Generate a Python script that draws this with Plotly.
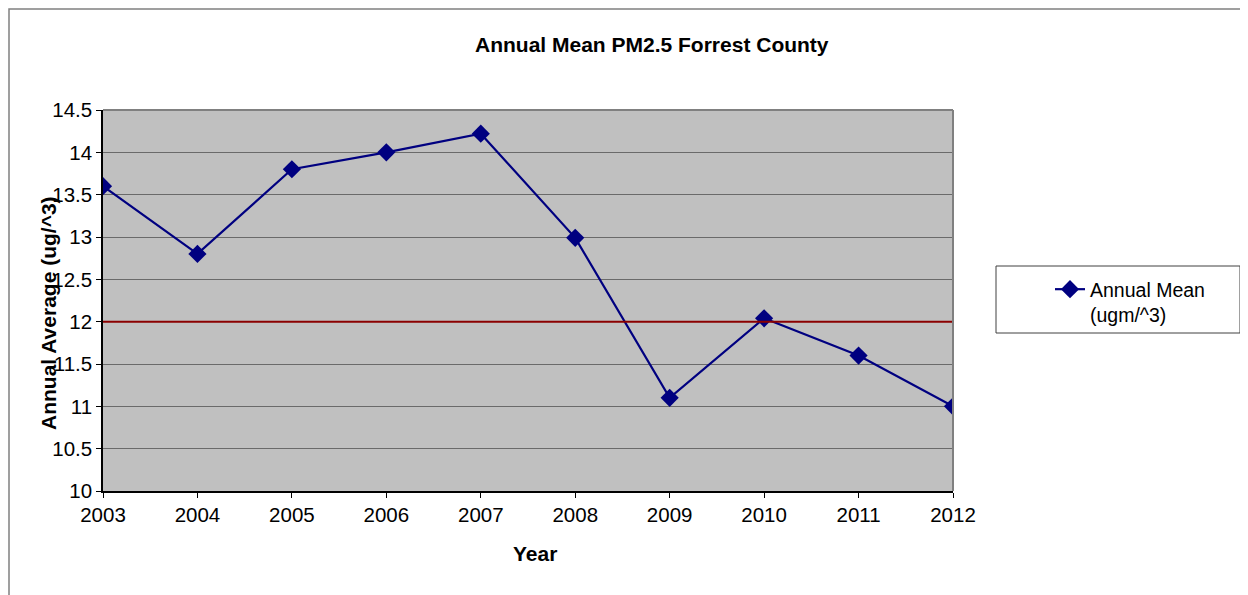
import plotly.graph_objects as go

years = [2003, 2004, 2005, 2006, 2007, 2008, 2009, 2010, 2011, 2012]
annual_mean = [13.6, 12.8, 13.8, 14.0, 14.22, 12.99, 11.1, 12.04, 11.6, 11.0]
standard = 12.0
y_ticks = [10, 10.5, 11, 11.5, 12, 12.5, 13, 13.5, 14, 14.5]

W, H = 1248, 595
OFF = 8  # browser body margin
# plot area in page pixels
L, R, T, B = 103, 953, 110, 491
Lf, Rf, Tf, Bf = L - OFF, R - OFF, T - OFF, B - OFF

def px(xp):
    return (xp - L) / (R - L)

def py(yp):
    return (B - yp) / (B - T)

fig = go.Figure()
fig.add_trace(go.Scatter(
    x=years, y=annual_mean, mode="lines+markers",
    name="Annual Mean<br>(ugm/^3)",
    line=dict(color="#000080", width=2.2),
    marker=dict(symbol="diamond", size=14, color="#000080"),
))

fig.add_shape(type="line", xref="paper", yref="y", x0=0, x1=1, y0=standard, y1=standard,
              line=dict(color="#8B0000", width=2))

# outer chart border (as close to the page corner as the figure allows)
fig.add_shape(type="rect", xref="paper", yref="paper", x0=px(9), x1=px(1270), y0=py(640), y1=py(9),
              line=dict(color="#808080", width=1.5), layer="below")
# plot area border (top/right gray)
fig.add_shape(type="line", xref="paper", yref="paper", x0=0, x1=1, y0=1, y1=1,
              line=dict(color="#808080", width=2))
fig.add_shape(type="line", xref="paper", yref="paper", x0=1, x1=1, y0=0, y1=1,
              line=dict(color="#808080", width=2))
# legend box
fig.add_shape(type="rect", xref="paper", yref="paper", x0=px(996), x1=px(1240), y0=py(333), y1=py(266),
              line=dict(color="#404040", width=1))

fig.add_annotation(text="<b>Annual Mean PM2.5 Forrest County</b>", xref="paper", yref="paper",
                   x=px(652), y=py(45), xanchor="center", yanchor="middle", showarrow=False,
                   font=dict(size=21, color="black"))
fig.add_annotation(text="<b>Annual Average (ug/^3)</b>", xref="paper", yref="paper",
                   x=px(48), y=py(313), xanchor="center", yanchor="middle", showarrow=False,
                   textangle=-90, font=dict(size=21, color="black"))
fig.add_annotation(text="<b>Year</b>", xref="paper", yref="paper",
                   x=px(535), y=py(553), xanchor="center", yanchor="middle", showarrow=False,
                   font=dict(size=21, color="black"))

fig.update_layout(
    width=W, height=H,
    margin=dict(l=Lf, r=W - Rf, t=Tf, b=H - Bf),
    paper_bgcolor="white", plot_bgcolor="#C0C0C0",
    font=dict(family="Liberation Sans, Arial", size=20.5, color="black"),
    showlegend=True,
    legend=dict(x=px(1050), y=py(270), xanchor="left", yanchor="top", valign="top",
                bgcolor="rgba(0,0,0,0)", borderwidth=0, font=dict(size=19.5)),
)
fig.update_xaxes(range=[2003, 2012], tickmode="array", tickvals=years, ticktext=[str(y) for y in years],
                 showgrid=False, zeroline=False, showline=True, linecolor="black", linewidth=1.5,
                 ticks="outside", ticklen=5, tickcolor="black")
fig.update_yaxes(range=[10, 14.5], tickmode="array", tickvals=y_ticks, ticktext=[f"{v:g}" for v in y_ticks],
                 showgrid=True, gridcolor="#6A6A6A", gridwidth=1, zeroline=False,
                 showline=True, linecolor="black", linewidth=1.5,
                 ticks="outside", ticklen=5, tickcolor="black")

fig.write_html("out.html")
